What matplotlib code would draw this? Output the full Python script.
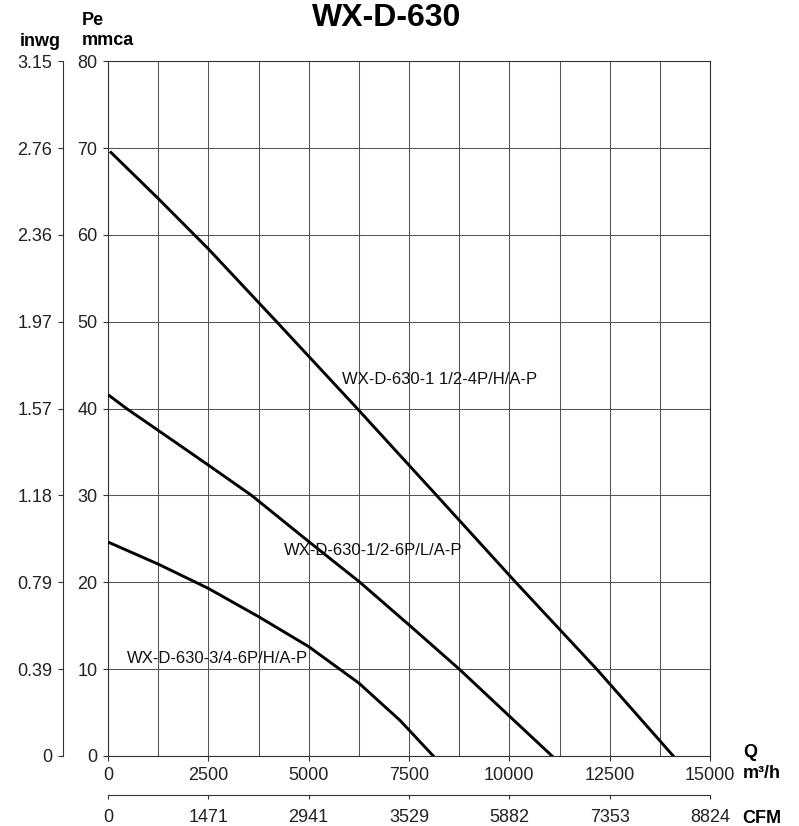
import matplotlib
matplotlib.use('Agg')
import matplotlib.pyplot as plt
import numpy as np

plt.rcParams['font.family'] = ['Liberation Sans', 'DejaVu Sans']

# curvas caudal (m3/h) - presion (mmca)
q_4p = [75, 1250, 2500, 4203, 6212, 8190, 10160, 12177, 14086]
p_4p = [69.5, 64.2, 58.4, 50.0, 40.0, 30.0, 20.0, 10.0, 0.0]

q_6pl = [33, 466, 1250, 2500, 3580, 5000, 6279, 7500, 8753, 10000, 11065]
p_6pl = [41.5, 40.0, 37.5, 33.5, 30.0, 24.7, 20.0, 15.1, 10.0, 4.6, 0.0]

q_6ph = [20, 1250, 2500, 3750, 5000, 6250, 7276, 8106]
p_6ph = [24.6, 22.1, 19.3, 16.05, 12.6, 8.4, 4.1, 0.0]

labels = ['WX-D-630-1 1/2-4P/H/A-P', 'WX-D-630-1/2-6P/L/A-P', 'WX-D-630-3/4-6P/H/A-P']
label_pos = [(5831, 43.3), (4393, 23.65), (466, 11.25)]

# ejes
q_ticks = [0, 2500, 5000, 7500, 10000, 12500, 15000]
cfm_labels = ['0', '1471', '2941', '3529', '5882', '7353', '8824']
mmca_ticks = [0, 10, 20, 30, 40, 50, 60, 70, 80]
inwg_labels = ['0', '0.39', '0.79', '1.18', '1.57', '1.97', '2.36', '2.76', '3.15']

fig = plt.figure(figsize=(7.99, 8.26), dpi=100)
ax = fig.add_axes([108 / 799, 1 - 756 / 826, 602 / 799, (756 - 61.3) / 826])

for q, p in [(q_4p, p_4p), (q_6pl, p_6pl), (q_6ph, p_6ph)]:
	ax.plot(q, p, color='black', lw=2.1, zorder=3)

for txt, (x, y) in zip(labels, label_pos):
	ax.text(x, y, txt, fontsize=12, ha='left', va='center', color='#111111', zorder=4)

ax.set_xlim(0, 15000)
ax.set_ylim(0, 80)
ax.set_xticks(q_ticks)
ax.set_xticks(np.arange(0, 15001, 1250), minor=True)
ax.set_yticks(mmca_ticks)
ax.grid(which='both', color='#555555', lw=0.75)
ax.tick_params(which='minor', length=0)
ax.tick_params(which='major', length=3.6, width=0.8, color='#333333',
	labelsize=13, labelcolor='#222222', pad=4)
for s in ax.spines.values():
	s.set_color('#333333')
	s.set_linewidth(0.8)

# eje inwg a la izquierda
axl = ax.twinx()
axl.set_ylim(0, 80)
axl.yaxis.set_ticks_position('left')
axl.spines['left'].set_position(('outward', 32.4))
for k in ['right', 'top', 'bottom']:
	axl.spines[k].set_visible(False)
axl.spines['left'].set_color('#333333')
axl.spines['left'].set_linewidth(0.8)
axl.set_yticks(mmca_ticks)
axl.set_yticklabels(inwg_labels)
axl.tick_params(length=3.6, width=0.8, color='#333333', labelsize=13,
	labelcolor='#222222', pad=4)

# eje CFM abajo
axb = ax.twiny()
axb.set_xlim(0, 15000)
axb.xaxis.set_ticks_position('bottom')
axb.spines['bottom'].set_position(('outward', 28.1))
for k in ['left', 'right', 'top']:
	axb.spines[k].set_visible(False)
axb.spines['bottom'].set_color('#333333')
axb.spines['bottom'].set_linewidth(0.8)
axb.set_xticks(q_ticks)
axb.set_xticklabels(cfm_labels)
axb.tick_params(length=3, width=0.8, color='#333333', labelsize=13,
	labelcolor='#222222', pad=7)

# titulo y rotulos
fig.text(386.5 / 799, 1 - 26 / 826, 'WX-D-630', fontsize=23, fontweight='bold',
	ha='center', va='baseline')
fig.text(82 / 799, 1 - 25 / 826, 'Pe', fontsize=13, fontweight='bold', va='baseline')
fig.text(82 / 799, 1 - 45 / 826, 'mmca', fontsize=13, fontweight='bold', va='baseline')
fig.text(20 / 799, 1 - 46 / 826, 'inwg', fontsize=13, fontweight='bold', va='baseline')
fig.text(743 / 799, 1 - 757 / 826, 'Q', fontsize=13, fontweight='bold', va='baseline')
fig.text(743 / 799, 1 - 778 / 826, 'm³/h', fontsize=13, fontweight='bold', va='baseline')
fig.text(742 / 799, 1 - 822.7 / 826, 'CFM', fontsize=13, fontweight='bold', va='baseline')

fig.savefig('out.png', dpi=100)
